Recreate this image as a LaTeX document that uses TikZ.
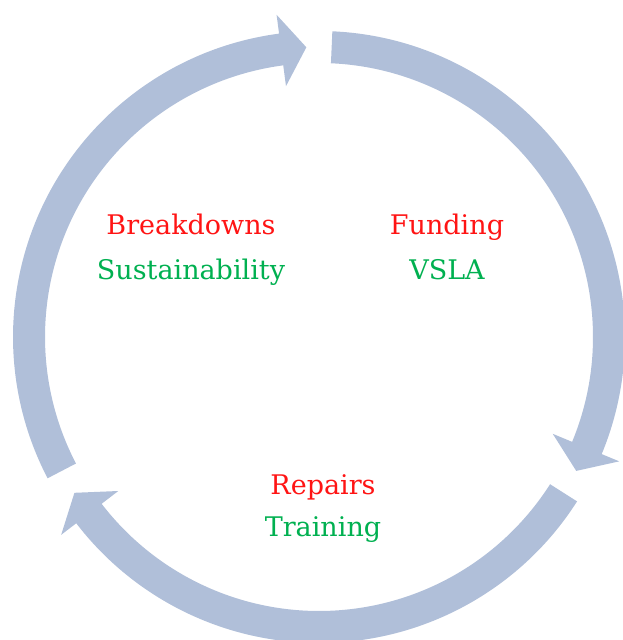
\documentclass[tikz,border=0pt]{standalone}
\usepackage{fontspec}
\setmainfont{DejaVu Serif}
\usetikzlibrary{calc}
\definecolor{ringblue}{RGB}{176,191,217}
\definecolor{issuered}{RGB}{255,20,20}
\definecolor{answergreen}{RGB}{0,176,80}
\tikzset{
  ringarrow/.style={fill=ringblue, draw=none},
  issue/.style={text=issuered, anchor=base, inner sep=0pt, font=\fontsize{27}{32}\selectfont},
  answer/.style={text=answergreen, anchor=base, inner sep=0pt, font=\fontsize{27}{32}\selectfont}
}
% curved arrow along the ring: #1 tail angle, #2 head base angle, #3 tip angle
\newcommand{\cyclearrow}[3]{%
  \fill[ringarrow]
    ($(c)+(#1:306)$) arc[start angle=#1, end angle=#2, radius=306]
    -- ($(c)+(#2:325)$) -- ($(c)+(#3:290)$) -- ($(c)+(#2:253)$)
    -- ($(c)+(#2:274)$) arc[start angle=#2, end angle=#1, radius=274] -- cycle;}
\begin{document}
\begin{tikzpicture}[x=1pt,y=1pt]
\useasboundingbox (0,0) rectangle (623,640);
\coordinate (c) at (319,303);
% three arrows chasing each other clockwise round the cycle
\cyclearrow{207.5}{97.5}{92.5}
\cyclearrow{87.5}{-22.5}{-27.5}
\cyclearrow{-32.5}{-142.5}{-147.5}
% labels
\node[issue]  (breakdowns) at (191,405) {Breakdowns};
\node[answer] (sustain)    at (191,360) {Sustainability};
\node[issue]  (funding)    at (447,405) {Funding};
\node[answer] (vsla)       at (447,360) {VSLA};
\node[issue]  (repairs)    at (323,145) {Repairs};
\node[answer] (training)   at (323,103) {Training};
\end{tikzpicture}
\end{document}
